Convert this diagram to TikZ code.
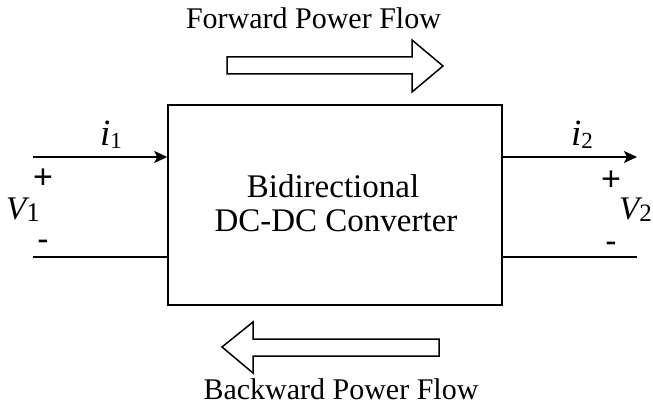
\documentclass[tikz,border=0pt]{standalone}
\usepackage{fontspec}
\setmainfont{Liberation Serif}
\newfontfamily\signfont{Liberation Sans}
\usetikzlibrary{arrows.meta}

\tikzset{
  wire/.style={line width=1.5pt},
  current/.style={wire,-{Stealth[length=13pt,width=12pt,inset=3pt]}},
  blockarrow/.style={line width=1.5pt,line join=miter,fill=white},
  caption/.style={inner sep=0pt,anchor=base,font=\fontsize{30}{30}\selectfont},
  boxtext/.style={inner sep=0pt,anchor=base,font=\fontsize{33}{35}\selectfont},
  varlabel/.style={inner sep=0pt,anchor=base west},
  sign/.style={inner sep=0pt,anchor=base,font=\signfont\fontsize{34}{34}\selectfont},
}

% italic symbol followed by a lowered upright subscript
% #1 symbol, #2 symbol size, #3 subscript, #4 subscript size, #5 drop
\newcommand{\symsub}[5]{{\fontsize{#2}{#2}\selectfont\itshape #1}\raisebox{-#5}{\fontsize{#4}{#4}\selectfont #3}}

\begin{document}
\begin{tikzpicture}[x=1pt,y=-1pt]
  \useasboundingbox (0,0) rectangle (653,406);

  % converter block
  \node[draw,line width=1.5pt,minimum width=334pt,minimum height=200pt,inner sep=0pt]
    (conv) at (335,205) {};
  \node[boxtext] (title1) at (333,197) {Bidirectional};
  \node[boxtext] (title2) at (336,232) {DC-DC Converter};

  % input port
  \coordinate (inTop) at (33,157);
  \coordinate (inBot) at (33,257);
  \draw[current] (inTop) -- (inTop -| conv.west);
  \draw[wire] (inBot) -- (inBot -| conv.west);

  % output port
  \coordinate (outTop) at (637,157);
  \coordinate (outBot) at (637,257);
  \draw[current] (outTop -| conv.east) -- (outTop);
  \draw[wire] (outBot -| conv.east) -- (outBot);

  % currents and voltages
  \node[varlabel] (i1) at (100,146) {\symsub{i}{37}{1}{23}{3pt}};
  \node[varlabel] (i2) at (571,146) {\symsub{i}{37}{2}{23}{3pt}};
  \node[varlabel] (v1) at (6,219) {\symsub{V}{33}{1}{27}{2pt}};
  \node[varlabel] (v2) at (619,219) {\symsub{V}{33}{2}{25}{2pt}};
  \node[sign] (p1) at (43,189) {+};
  \node[sign] (m1) at (43,250) {-};
  \node[sign] (p2) at (611,191) {+};
  \node[sign] (m2) at (611,252) {-};

  % power flow arrows
  \draw[blockarrow] (227,57) -- (412,57) -- (412,40) -- (443,66) -- (412,92)
    -- (412,74) -- (227,74) -- cycle;
  \draw[blockarrow] (222,347) -- (253,322) -- (253,339) -- (439,339) -- (439,356)
    -- (253,356) -- (253,373) -- cycle;
  \node[caption] (fwd) at (313.5,29) {Forward Power Flow};
  \node[caption] (bwd) at (341,399) {Backward Power Flow};
\end{tikzpicture}
\end{document}
